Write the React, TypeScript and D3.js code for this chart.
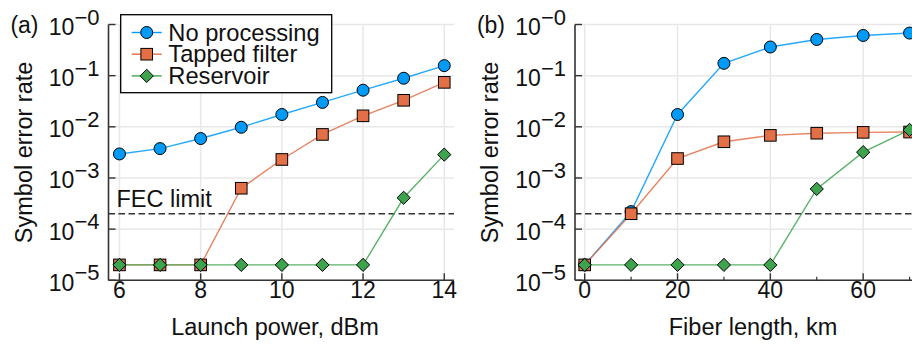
import React from "react";
import * as d3 from "d3";

// values
const powerDbm = [6, 7, 8, 9, 10, 11, 12, 13, 14];
const serPowerNoProc = [2.95e-3, 3.75e-3, 5.9e-3, 9.8e-3, 0.0174, 0.03, 0.052, 0.089, 0.157];
const serPowerTapped = [2e-5, 2e-5, 2e-5, 6.3e-4, 2.3e-3, 7.1e-3, 0.0164, 0.033, 0.074];
const serPowerReservoir = [2e-5, 2e-5, 2e-5, 2e-5, 2e-5, 2e-5, 2e-5, 4.1e-4, 2.86e-3];

const fiberKm = [0, 10, 20, 30, 40, 50, 60, 70];
const serFiberNoProc = [2e-5, 2.2e-4, 0.0174, 0.174, 0.363, 0.51, 0.61, 0.68];
const serFiberTapped = [2e-5, 2e-4, 2.4e-3, 5.1e-3, 6.8e-3, 7.5e-3, 7.8e-3, 7.9e-3];
const serFiberReservoir = [2e-5, 2e-5, 2e-5, 2e-5, 2e-5, 6.1e-4, 3.2e-3, 8.7e-3];

const fecLimit = 2e-4;
const decadeExps = [0, -1, -2, -3, -4, -5];
const powerTicks = [6, 8, 10, 12, 14];
const fiberTicks = [0, 20, 40, 60];
const fiberMinorTicks = [10, 30, 50, 70];
const seriesNames = ["No processing", "Tapped filter", "Reservoir"];
const seriesColors = ["#009af9", "#e26f46", "#3da44d"];
const seriesMarkers = ["circle", "square", "diamond"];

const FONT = "'Liberation Sans', Arial, Helvetica, sans-serif";
const TOP = 24.5;
const BOTTOM = 280.3;

const y = d3.scaleLog().domain([1e-5, 1]).range([BOTTOM, TOP]);

function Marker({ kind, cx, cy, color }) {
    if (kind === "circle") {
        return <circle cx={cx} cy={cy} r={6} fill={color} stroke="#000" strokeWidth={1} />;
    }
    if (kind === "square") {
        return (
            <rect x={cx - 5.8} y={cy - 5.8} width={11.6} height={11.6} fill={color} stroke="#000" strokeWidth={1} />
        );
    }
    const s = 6.6;
    return (
        <path
            d={`M${cx},${cy - s}L${cx + s},${cy}L${cx},${cy + s}L${cx - s},${cy}Z`}
            fill={color}
            stroke="#000"
            strokeWidth={1}
        />
    );
}

function Panel({ tag, xs, series, x, xTicks, minorTicks, xLabel, labelX, showLegend, showFec, clipId }) {
    const [x0, x1] = x.range();
    const line = d3
        .line()
        .x((d) => x(d[0]))
        .y((d) => y(d[1]));

    return (
        <g>
            <defs>
                <clipPath id={clipId}>
                    <rect x={x0} y={TOP - 10} width={x1 - x0} height={BOTTOM - TOP + 20} />
                </clipPath>
            </defs>
            {/* grid */}
            {xTicks.map((t) => (
                <line key={"gx" + t} x1={x(t)} x2={x(t)} y1={TOP} y2={BOTTOM} stroke="#e8e8e8" strokeWidth={1.5} />
            ))}
            {decadeExps.map((e) => (
                <line key={"gy" + e} x1={x0} x2={x1} y1={y(10 ** e)} y2={y(10 ** e)} stroke="#e8e8e8" strokeWidth={1.5} />
            ))}

            {/* FEC limit */}
            <line
                x1={x0}
                x2={x1}
                y1={y(fecLimit)}
                y2={y(fecLimit)}
                stroke="#333"
                strokeWidth={1.5}
                strokeDasharray="6.5,3.5"
            />
            {showFec && (
                <text x={x0 + 8} y={y(fecLimit) - 6.5} fontSize={23.5} fontFamily={FONT} fill="#111">
                    FEC limit
                </text>
            )}

            {/* series */}
            <g clipPath={`url(#${clipId})`}>
                {series.map((vals, i) => (
                    <path
                        key={"l" + i}
                        d={line(xs.map((v, j) => [v, vals[j]]))}
                        fill="none"
                        stroke={seriesColors[i]}
                        strokeWidth={1.4}
                        strokeOpacity={0.85}
                    />
                ))}
            </g>
            {series.map((vals, i) => (
                <g key={"m" + i}>
                    {xs.map((v, j) => (
                        <Marker key={j} kind={seriesMarkers[i]} cx={x(v)} cy={y(vals[j])} color={seriesColors[i]} />
                    ))}
                </g>
            ))}

            {/* axes */}
            <line x1={x0} x2={x0} y1={TOP} y2={BOTTOM} stroke="#333" strokeWidth={1.6} />
            <line x1={x0} x2={x1} y1={BOTTOM} y2={BOTTOM} stroke="#333" strokeWidth={1.6} />
            {decadeExps.map((e) => (
                <g key={"ty" + e}>
                    <line x1={x0} x2={x0 + 7} y1={y(10 ** e)} y2={y(10 ** e)} stroke="#333" strokeWidth={1.4} />
                    <text
                        x={x0 - 9}
                        y={y(10 ** e) + 10.5}
                        textAnchor="end"
                        fontSize={23}
                        fontFamily={FONT}
                        fill="#111"
                    >
                        10
                        <tspan dy={-10.5} fontSize={22}>
                            {"\u2212" + Math.abs(e)}
                        </tspan>
                    </text>
                </g>
            ))}
            {xTicks.map((t) => (
                <g key={"tx" + t}>
                    <line x1={x(t)} x2={x(t)} y1={BOTTOM} y2={BOTTOM - 7} stroke="#333" strokeWidth={1.4} />
                    <text x={x(t)} y={BOTTOM + 17.5} textAnchor="middle" fontSize={23} fontFamily={FONT} fill="#111">
                        {t}
                    </text>
                </g>
            ))}
            {minorTicks.map((t) => (
                <line key={"mx" + t} x1={x(t)} x2={x(t)} y1={BOTTOM} y2={BOTTOM - 3.5} stroke="#333" strokeWidth={1.2} />
            ))}

            <text x={x0 - 70} y={33} textAnchor="end" fontSize={23} fontFamily={FONT} fill="#111">
                {tag}
            </text>
            <text
                transform={`translate(${x0 - 77},${(TOP + BOTTOM) / 2}) rotate(-90)`}
                textAnchor="middle"
                fontSize={23.5}
                fontFamily={FONT}
                fill="#111"
            >
                Symbol error rate
            </text>
            <text x={labelX} y={335} textAnchor="middle" fontSize={23.5} fontFamily={FONT} fill="#111">
                {xLabel}
            </text>

            {showLegend && (
                <g>
                    <rect x={120.7} y={14.7} width={211} height={78} fill="#fff" stroke="#000" strokeWidth={1.3} />
                    {seriesNames.map((name, i) => {
                        const ly = 32.5 + i * 21.7;
                        return (
                            <g key={name}>
                                <line x1={131.7} x2={161.7} y1={ly} y2={ly} stroke={seriesColors[i]} strokeWidth={1.4} />
                                <Marker kind={seriesMarkers[i]} cx={146.7} cy={ly} color={seriesColors[i]} />
                                <text x={168.3} y={ly + 8} fontSize={23.7} fontFamily={FONT} fill="#111">
                                    {name}
                                </text>
                            </g>
                        );
                    })}
                </g>
            )}
        </g>
    );
}

export default function App() {
    const xPower = d3.scaleLinear().domain([5.73, 14.24]).range([108.5, 454]);
    const xFiber = d3.scaleLinear().domain([-2.09, 74.4]).range([575, 930]);

    return (
        <svg
            width={912}
            height={344}
            viewBox="0 0 912 344"
            style={{ position: "absolute", left: 0, top: 0, background: "#fff" }}
        >
            <rect width={912} height={344} fill="#fff" />
            <Panel
                tag="(a)"
                xs={powerDbm}
                series={[serPowerNoProc, serPowerTapped, serPowerReservoir]}
                x={xPower}
                xTicks={powerTicks}
                minorTicks={[]}
                xLabel="Launch power, dBm"
                labelX={275}
                showLegend={true}
                showFec={true}
                clipId="clipA"
            />
            <Panel
                tag="(b)"
                xs={fiberKm}
                series={[serFiberNoProc, serFiberTapped, serFiberReservoir]}
                x={xFiber}
                xTicks={fiberTicks}
                minorTicks={fiberMinorTicks}
                xLabel="Fiber length, km"
                labelX={753}
                showLegend={false}
                showFec={false}
                clipId="clipB"
            />
        </svg>
    );
}
